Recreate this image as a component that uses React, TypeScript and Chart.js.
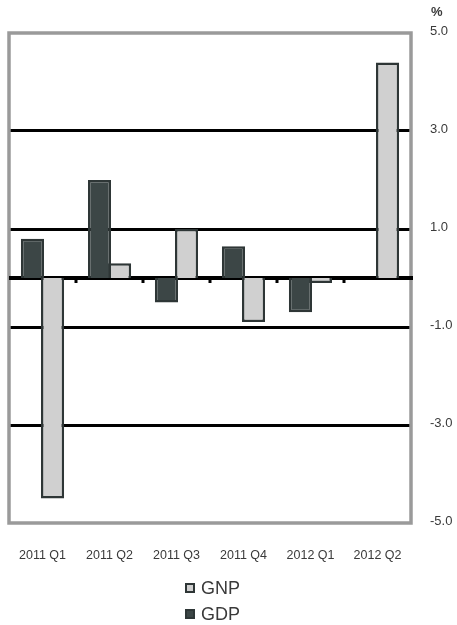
import { useEffect, useRef } from "react";
import { Chart, registerables } from "chart.js";

Chart.register(...registerables);

const categories = ["2011 Q1", "2011 Q2", "2011 Q3", "2011 Q4", "2012 Q1", "2012 Q2"];
const gdpValues = [0.8, 2.0, -0.5, 0.65, -0.7, 0.0];
const gnpValues = [-4.5, 0.3, 1.0, -0.9, -0.1, 4.4];
const yMin = -5;
const yMax = 5;
const yStep = 2;
const unitLabel = "%";
const legendOrder = ["GNP", "GDP"];

const FONT = "'Liberation Sans', Arial, sans-serif";
const TEXT = "#3a3a3a";
const EDGE = "#2e3636";

const decorPlugin = {
  id: "decor",
  beforeDatasetsDraw(chart: any) {
    const { ctx, chartArea: a, scales } = chart;
    const x = scales.x;
    const y = scales.y;
    ctx.save();
    // plot frame
    ctx.strokeStyle = "#9a9a9a";
    ctx.lineWidth = 3.5;
    ctx.strokeRect(a.left, a.top, a.right - a.left, a.bottom - a.top);
    // zero line
    const zy = y.getPixelForValue(0);
    ctx.strokeStyle = "#000";
    ctx.lineWidth = 4;
    ctx.beginPath();
    ctx.moveTo(a.left, zy);
    ctx.lineTo(a.right + 2, zy);
    ctx.stroke();
    // category boundary ticks on the zero line
    ctx.fillStyle = "#000";
    for (let i = 1; i < categories.length; i++) {
      const bx = (x.getPixelForValue(i - 1) + x.getPixelForValue(i)) / 2;
      ctx.fillRect(bx - 1.5, zy, 3, 5);
    }
    ctx.restore();
  },
  afterDraw(chart: any) {
    const { ctx, chartArea: a } = chart;
    ctx.save();
    // unit label
    ctx.font = `bold 13px ${FONT}`;
    ctx.fillStyle = TEXT;
    ctx.textAlign = "left";
    ctx.textBaseline = "middle";
    ctx.fillText(unitLabel, a.right + 20, 12);
    // vertical legend
    ctx.font = `18px ${FONT}`;
    ctx.textBaseline = "alphabetic";
    legendOrder.forEach((name, i) => {
      const ds = chart.data.datasets.find((d: any) => d.label === name);
      if (!ds) return;
      const baseY = a.bottom + 71 + i * 26;
      const bx = 185;
      const by = baseY - 11;
      ctx.fillStyle = ds.borderColor;
      ctx.fillRect(bx, by, 10, 10);
      ctx.fillStyle = ds.backgroundColor;
      ctx.fillRect(bx + 2, by + 2, 6, 6);
      ctx.fillStyle = TEXT;
      ctx.fillText(name, bx + 16, baseY);
    });
    ctx.restore();
  },
};

export default function App() {
  const ref = useRef<HTMLCanvasElement | null>(null);

  useEffect(() => {
    document.body.style.margin = "0";
    if (!ref.current) return;
    const chart = new Chart(ref.current, {
      type: "bar",
      data: {
        labels: categories,
        datasets: [
          {
            label: "GDP",
            data: gdpValues,
            backgroundColor: "#3c4646",
            borderColor: EDGE,
            borderWidth: 2.5,
            categoryPercentage: 0.6,
            barPercentage: 1.15,
          },
          {
            label: "GNP",
            data: gnpValues,
            backgroundColor: "#d0d0d0",
            borderColor: EDGE,
            borderWidth: 2.5,
            categoryPercentage: 0.6,
            barPercentage: 1.15,
          },
        ],
      },
      options: {
        responsive: false,
        animation: false,
        layout: { padding: { left: 9, top: 33, right: 0, bottom: 0 } },
        plugins: {
          legend: { display: false },
          tooltip: { enabled: false },
        },
        scales: {
          x: {
            grid: { display: false, drawTicks: true, tickLength: 22 },
            border: { display: false },
            ticks: {
              color: TEXT,
              font: { family: FONT, size: 12.5 },
              padding: 3,
              autoSkip: false,
              maxRotation: 0,
            },
            afterFit(scale: any) {
              scale.height = 102;
            },
          },
          y: {
            position: "right",
            min: yMin,
            max: yMax,
            grid: {
              drawTicks: false,
              lineWidth: 3,
              color: (c: any) =>
                c.tick && (c.tick.value === yMin || c.tick.value === yMax) ? "rgba(0,0,0,0)" : "#000",
            },
            border: { display: false },
            ticks: {
              stepSize: yStep,
              color: TEXT,
              font: { family: FONT, size: 13 },
              padding: 19,
              labelOffset: -2,
              callback: (v: any) => Number(v).toFixed(1),
            },
            afterFit(scale: any) {
              scale.width = 46;
            },
          },
        },
      },
      plugins: [decorPlugin],
    });
    return () => chart.destroy();
  }, []);

  return (
    <div style={{ width: 457, height: 625 }}>
      <canvas ref={ref} width={457} height={625} />
    </div>
  );
}
